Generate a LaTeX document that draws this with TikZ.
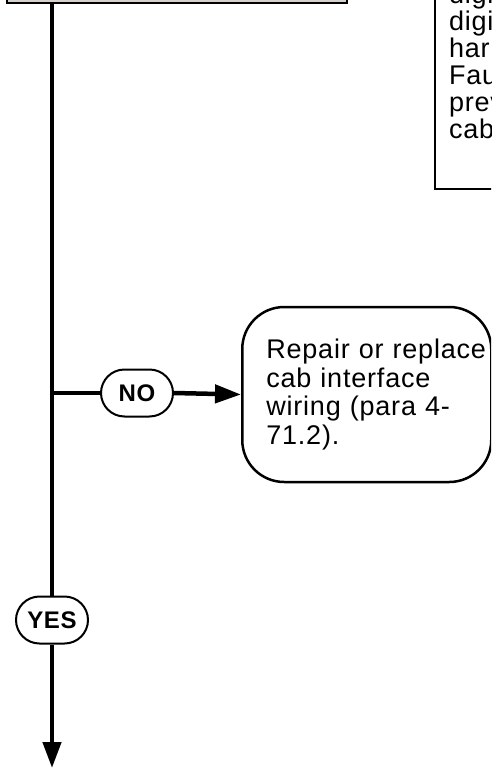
\documentclass[tikz,border=0pt]{standalone}
\usepackage{fontspec}
\setmainfont{Liberation Sans}[LetterSpace=3]
\usetikzlibrary{arrows.meta,shapes.misc,positioning}
\definecolor{boxgrey}{RGB}{214,208,204}
\tikzset{
  flow/.style={line width=4.5pt},
  tip/.style={-{Triangle[width=18pt,length=26pt]}},
  answer/.style={rounded rectangle, draw, line width=2pt, fill=white,
    minimum width=72pt, minimum height=47pt, inner sep=0pt,
    font=\fontsize{24pt}{24pt}\selectfont\bfseries},
  action/.style={draw, line width=2.5pt, rounded corners=42pt, fill=white,
    align=left, text width=201pt, inner xsep=24pt, minimum height=175pt,
    font=\fontsize{27pt}{28.5pt}\selectfont},
  notebox/.style={draw, line width=2pt, align=left, text width=100pt,
    inner xsep=14pt, inner ysep=0pt,
    font=\fontsize{27pt}{27pt}\selectfont},
  chkbox/.style={draw, line width=2pt, fill=boxgrey,
    minimum width=340pt, minimum height=86pt}
}
\begin{document}
\begin{tikzpicture}[x=1pt,y=-1pt]
\useasboundingbox (0,0) rectangle (491,768);
\clip (0,0) rectangle (491,768);
\node[chkbox] (chk) at (177,-40) {};
\node[notebox, anchor=south west] (note) at (434,190)
  {digi\\digi\\har\\Fau\\prev\\cab\rule[-50pt]{0pt}{50pt}};
\node[action, anchor=west] (repair) at (241,394.5)
  {\mbox{Repair or replace}\\\mbox{cab interface}\\\mbox{wiring (para 4-}\\\mbox{71.2).}};
\node[answer] (no) at (137,393) {NO};
\node[answer] (yes) at (52,620) {YES};
\coordinate (split) at (52,393);
\coordinate (out) at (52,768);
\draw[flow] (chk.south -| yes) -- (yes.north);
\draw[flow, tip] (yes.south) -- (out);
\draw[flow] (split) -- (no.west);
\draw[flow, tip] (no.east) -- (repair.west);
\end{tikzpicture}
\end{document}
